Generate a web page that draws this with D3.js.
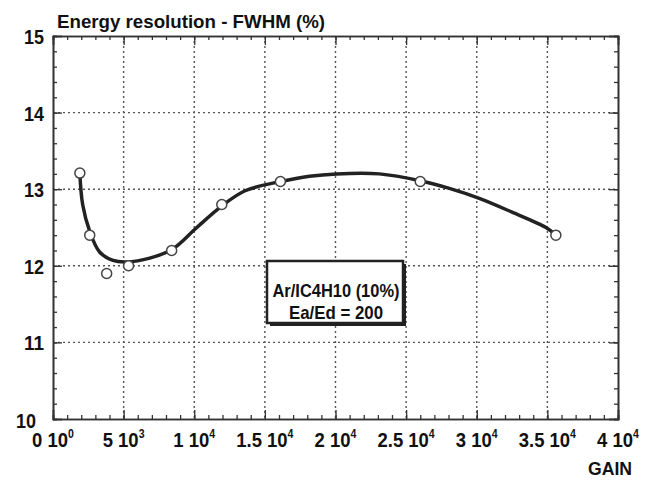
<!DOCTYPE html>
<html>
<head>
<meta charset="utf-8">
<script src="https://cdn.jsdelivr.net/npm/d3@7"></script>
<style>
body { margin: 0; background: #fff; }
text { font-family: "Liberation Sans", Arial, sans-serif; font-weight: bold; fill: #111; }
</style>
</head>
<body>
<script>
// measured points
var gain = [1900, 2600, 3800, 5350, 8400, 11950, 16100, 26000, 35600];
var fwhm = [13.21, 12.4, 11.9, 12.0, 12.2, 12.8, 13.1, 13.1, 12.4];

// fitted curve
var fitGain = [1900, 2100, 2600, 3300, 4250, 5200, 6850, 8480, 10180, 11940, 13600, 16100, 18160, 20070, 23100, 26000, 28060, 30180, 32500, 34900, 35470];
var fitFwhm = [13.21, 12.8, 12.45, 12.18, 12.07, 12.05, 12.1, 12.22, 12.5, 12.78, 12.98, 13.1, 13.17, 13.2, 13.2, 13.11, 13.01, 12.88, 12.7, 12.5, 12.42];

// tick labels
var xTicks = [0, 5000, 10000, 15000, 20000, 25000, 30000, 35000, 40000];
var xMant = ["0 10", "5 10", "1 10", "1.5 10", "2 10", "2.5 10", "3 10", "3.5 10", "4 10"];
var xExp = ["0", "3", "4", "4", "4", "4", "4", "4", "4"];
var yTicks = [10, 11, 12, 13, 14, 15];

var w = 646, h = 481;
var mLeft = 53, mRight = 618, mTop = 36, mBottom = 419;

var svg = d3.select('body').append('svg')
    .attr('width', w)
    .attr('height', h);

var xScale = d3.scaleLinear().domain([0, 40000]).range([mLeft, mRight]);
var yScale = d3.scaleLinear().domain([10, 15]).range([mBottom, mTop]);

// dotted grid
svg.append('g').selectAll('line')
    .data(xTicks.slice(1, -1))
    .enter().append('line')
    .attr('x1', d => xScale(d)).attr('x2', d => xScale(d))
    .attr('y1', mTop).attr('y2', mBottom)
    .attr('stroke', '#555').attr('stroke-width', 1.4)
    .attr('stroke-dasharray', '2,3');

svg.append('g').selectAll('line')
    .data(yTicks.slice(1, -1))
    .enter().append('line')
    .attr('x1', mLeft).attr('x2', mRight)
    .attr('y1', d => yScale(d)).attr('y2', d => yScale(d))
    .attr('stroke', '#555').attr('stroke-width', 1.4)
    .attr('stroke-dasharray', '2,3');

// axes with inward ticks
var minorX = d3.range(0, 40001, 1000);
var minorY = d3.range(10, 15.01, 0.2);

function tickAxis(axis, vals, size, tr) {
    var g = svg.append('g')
        .attr('transform', tr)
        .call(axis.tickValues(vals).tickSize(size).tickFormat(''));
    g.select('.domain').attr('stroke', '#333').attr('stroke-width', 1.6);
    g.selectAll('.tick line').attr('stroke', '#333').attr('stroke-width', 1.3);
    return g;
}
tickAxis(d3.axisBottom(xScale), minorX, -4, 'translate(0,' + mBottom + ')');
tickAxis(d3.axisBottom(xScale), xTicks, -9, 'translate(0,' + mBottom + ')');
tickAxis(d3.axisTop(xScale), minorX, -4, 'translate(0,' + mTop + ')');
tickAxis(d3.axisTop(xScale), xTicks, -9, 'translate(0,' + mTop + ')');
tickAxis(d3.axisLeft(yScale), minorY, -4, 'translate(' + mLeft + ',0)');
tickAxis(d3.axisLeft(yScale), yTicks, -9, 'translate(' + mLeft + ',0)');
tickAxis(d3.axisRight(yScale), minorY, -4, 'translate(' + mRight + ',0)');
tickAxis(d3.axisRight(yScale), yTicks, -9, 'translate(' + mRight + ',0)');

// y labels (the bottom one sits lower-left, as in the original)
svg.append('g').selectAll('text')
    .data(yTicks)
    .enter().append('text')
    .attr('x', d => d == 10 ? 36 : 44)
    .attr('y', d => yScale(d) + (d == 10 ? 9 : 8))
    .attr('text-anchor', 'end')
    .attr('font-size', 21)
    .attr('textLength', 20).attr('lengthAdjust', 'spacingAndGlyphs')
    .text(d => d);

// x labels with superscript
var xl = svg.append('g').selectAll('text')
    .data(xTicks)
    .enter().append('text')
    .attr('x', d => xScale(d))
    .attr('y', 447)
    .attr('text-anchor', 'middle')
    .attr('font-size', 21)
    .attr('transform', d => 'translate(' + xScale(d) + ',0) scale(0.88,1) translate(' + (-xScale(d)) + ',0)');
xl.append('tspan').text((d, i) => xMant[i]);
xl.append('tspan').attr('font-size', 12).attr('dy', -9).text((d, i) => xExp[i]);

svg.append('text')
    .attr('x', 632).attr('y', 475)
    .attr('text-anchor', 'end')
    .attr('font-size', 19)
    .attr('textLength', 44).attr('lengthAdjust', 'spacingAndGlyphs')
    .text('GAIN');

svg.append('text')
    .attr('x', 57).attr('y', 28)
    .attr('font-size', 19)
    .attr('textLength', 268).attr('lengthAdjust', 'spacingAndGlyphs')
    .text('Energy resolution - FWHM (%)');

// fitted curve
var line = d3.line()
    .x(d => xScale(d[0]))
    .y(d => yScale(d[1]))
    .curve(d3.curveCatmullRom);

svg.append('path')
    .datum(d3.zip(fitGain, fitFwhm))
    .attr('d', line)
    .attr('fill', 'none')
    .attr('stroke', '#222')
    .attr('stroke-width', 3.5);

svg.append('g').selectAll('circle')
    .data(d3.zip(gain, fwhm))
    .enter().append('circle')
    .attr('cx', d => xScale(d[0]))
    .attr('cy', d => yScale(d[1]))
    .attr('r', 5)
    .attr('fill', '#fff')
    .attr('stroke', '#444')
    .attr('stroke-width', 1.5);

// legend box
var box = svg.append('g');
box.append('rect')
    .attr('x', 270).attr('y', 264).attr('width', 136).attr('height', 62)
    .attr('fill', '#222');
box.append('rect')
    .attr('x', 267).attr('y', 261).attr('width', 136).attr('height', 62)
    .attr('fill', '#fff').attr('stroke', '#222').attr('stroke-width', 2.5);
box.append('text')
    .attr('x', 336).attr('y', 297)
    .attr('text-anchor', 'middle').attr('font-size', 19)
    .attr('textLength', 127).attr('lengthAdjust', 'spacingAndGlyphs')
    .text('Ar/IC4H10 (10%)');
box.append('text')
    .attr('x', 336).attr('y', 319)
    .attr('text-anchor', 'middle').attr('font-size', 19)
    .attr('textLength', 94).attr('lengthAdjust', 'spacingAndGlyphs')
    .text('Ea/Ed = 200');
</script>
</body>
</html>
